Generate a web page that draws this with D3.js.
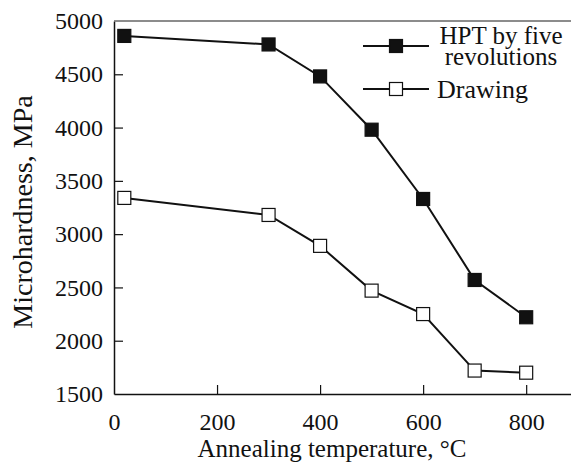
<!DOCTYPE html>
<html>
<head>
<meta charset="utf-8">
<script src="https://cdn.jsdelivr.net/npm/d3@7"></script>
<style>
  body { margin: 0; background: #fff; }
  svg text { font-family: "Liberation Serif", "Times New Roman", serif; fill: #111; }
</style>
</head>
<body>
<div id="chart"></div>
<script>
// values
const temps = [20, 300, 400, 500, 600, 700, 800];
const hptValues = [4860, 4780, 4480, 3980, 3330, 2570, 2220];
const drawingValues = [3340, 3180, 2890, 2470, 2250, 1720, 1700];
const xTicks = [0, 200, 400, 600, 800];
const yTicks = [1500, 2000, 2500, 3000, 3500, 4000, 4500, 5000];
const seriesNames = ["HPT by five|revolutions", "Drawing"];

function main() {
    const canvasWidth = 571;
    const canvasHeight = 464;

    const svg = d3.select("#chart").append("svg")
        .attr("width", canvasWidth)
        .attr("height", canvasHeight);

    const xScale = d3.scaleLinear()
        .domain([0, 887])
        .range([114, 571]);

    const yScale = d3.scaleLinear()
        .domain([1500, 5000])
        .range([394, 21]);

    // bottom axis, ticks pointing inward
    const xAxis = svg.append("g")
        .attr("transform", "translate(0," + yScale(1500) + ")")
        .call(d3.axisBottom(xScale).tickValues(xTicks).tickFormat(d3.format("d"))
            .tickSize(-9).tickSizeOuter(0).tickPadding(19));
    xAxis.attr("font-family", null).attr("font-size", null);
    xAxis.select(".domain").attr("stroke", "#111").attr("stroke-width", 1.5);
    xAxis.selectAll(".tick line").attr("stroke", "#111").attr("stroke-width", 1.2)
        .filter(d => d === 0).remove();
    xAxis.selectAll(".tick text").attr("font-size", "24px").attr("fill", "#111");

    const yAxis = svg.append("g")
        .attr("transform", "translate(" + xScale(0) + ",0)")
        .call(d3.axisLeft(yScale).tickValues(yTicks).tickFormat(d3.format("d"))
            .tickSize(-9).tickSizeOuter(0).tickPadding(11));
    yAxis.attr("font-family", null).attr("font-size", null);
    yAxis.select(".domain").attr("stroke", "#111").attr("stroke-width", 1.5);
    yAxis.selectAll(".tick line").attr("stroke", "#111").attr("stroke-width", 1.2)
        .filter(d => d === 1500 || d === 5000).remove();
    yAxis.selectAll(".tick text").attr("font-size", "24px").attr("fill", "#111");

    // top frame line
    svg.append("line")
        .attr("x1", xScale(0)).attr("x2", canvasWidth)
        .attr("y1", yScale(5000)).attr("y2", yScale(5000))
        .attr("stroke", "#666")
        .attr("stroke-width", 1.5);

    // axis titles
    svg.append("text")
        .attr("x", 332)
        .attr("y", 457)
        .attr("text-anchor", "middle")
        .attr("font-size", "25px")
        .text("Annealing temperature, °C");

    svg.append("text")
        .attr("transform", "translate(32,212) rotate(-90)")
        .attr("text-anchor", "middle")
        .attr("font-size", "28px")
        .text("Microhardness, MPa");

    const line = d3.line()
        .x(d => xScale(d[0]))
        .y(d => yScale(d[1]));

    const series = [
        { values: hptValues, fill: "#111" },
        { values: drawingValues, fill: "#fff" }
    ];

    const size = 13;
    series.forEach(s => {
        const pts = temps.map((t, i) => [t, s.values[i]]);
        svg.append("path")
            .attr("d", line(pts))
            .attr("fill", "none")
            .attr("stroke", "#111")
            .attr("stroke-width", 2);
        svg.selectAll(null)
            .data(pts)
            .join("rect")
            .attr("x", d => xScale(d[0]) - size / 2)
            .attr("y", d => yScale(d[1]) - size / 2)
            .attr("width", size)
            .attr("height", size)
            .attr("fill", s.fill)
            .attr("stroke", "#111")
            .attr("stroke-width", 1.2);
    });

    // legend
    const legendY = [46, 89];
    series.forEach((s, i) => {
        const g = svg.append("g");
        g.append("line")
            .attr("x1", 363).attr("x2", 429)
            .attr("y1", legendY[i]).attr("y2", legendY[i])
            .attr("stroke", "#111").attr("stroke-width", 2);
        g.append("rect")
            .attr("x", 396 - size / 2)
            .attr("y", legendY[i] - size / 2)
            .attr("width", size).attr("height", size)
            .attr("fill", s.fill)
            .attr("stroke", "#111").attr("stroke-width", 1.2);
    });

    // two-line legend label, lines set tight as in the original
    const hptLines = seriesNames[0].split("|");
    svg.append("text")
        .attr("x", 501).attr("y", 44)
        .attr("text-anchor", "middle")
        .attr("font-size", "25px")
        .text(hptLines[0]);
    svg.append("text")
        .attr("x", 501).attr("y", 65)
        .attr("text-anchor", "middle")
        .attr("font-size", "25px")
        .text(hptLines[1]);
    svg.append("text")
        .attr("x", 437).attr("y", 98)
        .attr("font-size", "26px")
        .text(seriesNames[1]);
}
main();
</script>
</body>
</html>
